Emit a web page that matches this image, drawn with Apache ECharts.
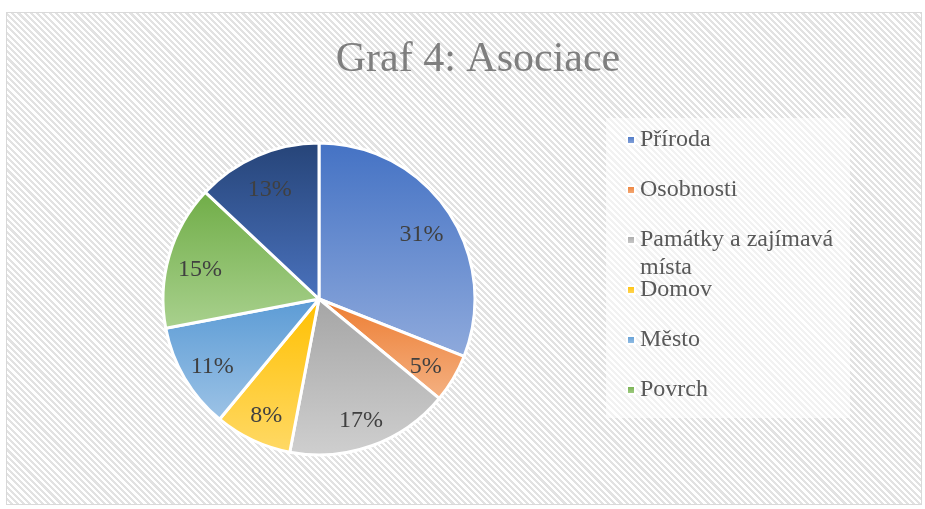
<!DOCTYPE html>
<html>
<head>
<meta charset="utf-8">
<script src="https://cdn.jsdelivr.net/npm/echarts@6/dist/echarts.min.js"></script>
<style>
html,body{margin:0;padding:0;background:#fff;}
#frame{position:absolute;left:6px;top:12px;width:914px;height:491px;border:1.5px solid #d9d9d9;
background:repeating-linear-gradient(45deg,#ffffff 0px,#ffffff 2.2px,#e2e2e2 2.2px,#e2e2e2 4.4px);}
#legbox{position:absolute;left:606px;top:118px;width:244px;height:300px;background:rgba(255,255,255,0.55);}
#chart{position:absolute;left:0;top:0;width:925px;height:509px;}
</style>
</head>
<body>
<div id="frame"></div>
<div id="legbox"></div>
<div id="chart"></div>
<script>
const titleText = "Graf 4: Asociace";
const categories = ["Příroda", "Osobnosti", "Památky a zajímavá místa", "Domov", "Město", "Povrch", "Ostatní"];
const values = [31, 5, 17, 8, 11, 15, 13];
const legendNames = ["Příroda", "Osobnosti", "Památky a zajímavá místa", "Domov", "Město", "Povrch"];
const colorTop = ["#4472c4", "#ed7d31", "#a5a5a5", "#ffc000", "#5b9bd5", "#70ad47", "#264478"];
const colorBottom = ["#8faadc", "#f4b183", "#cfcfcf", "#ffd966", "#9dc3e6", "#a9d18e", "#4a72bd"];

const serif = "'Liberation Serif','Times New Roman',serif";
const grad = (i) => new echarts.graphic.LinearGradient(0, 0, 0, 1, [
  {offset: 0, color: colorTop[i]}, {offset: 1, color: colorBottom[i]}
]);
const pieData = categories.map((n, i) => ({name: n, value: values[i], itemStyle: {color: grad(i)}}));
const labelData = categories.map((n, i) => ({name: n, value: values[i]}));

// one legend component per entry, rows 50px apart
const legendTop0 = 135, legendStep = 50, lh = 28;
const legends = legendNames.map((n, i) => {
  const wrapped = n === "Památky a zajímavá místa";
  const c = legendTop0 + legendStep * i;
  return {
    orient: 'vertical', left: 621,
    top: wrapped ? c - (3 * lh) / 2 : c - lh / 2,
    itemWidth: 8, itemHeight: 8, icon: 'rect', data: [n],
    formatter: wrapped ? () => "\nPamátky a zajímavá\nmísta" : '{name}',
    textStyle: {fontFamily: serif, fontSize: 24, color: '#595959', lineHeight: lh},
    selectedMode: false
  };
});

const chart = echarts.init(document.getElementById('chart'), null, {renderer: 'canvas'});
chart.setOption({
  backgroundColor: 'transparent',
  animation: false,
  title: {
    text: titleText, left: 473, top: 34, textAlign: 'center',
    textStyle: {fontFamily: serif, fontSize: 42, fontWeight: 'normal', color: '#7f7f7f'}
  },
  legend: legends,
  series: [{
    type: 'pie', center: [319, 299], radius: [0, 156], startAngle: 90, clockwise: true,
    data: pieData, label: {show: false}, labelLine: {show: false},
    itemStyle: {borderColor: '#ffffff', borderWidth: 3},
    emphasis: {disabled: true}, silent: true
  }, {
    type: 'pie', center: [319, 299], radius: [86, 156], startAngle: 90, clockwise: true,
    data: labelData,
    itemStyle: {color: 'rgba(0,0,0,0)'},
    label: {show: true, position: 'inside', formatter: '{d}%', offset: [0, 5],
      fontFamily: serif, fontSize: 24, color: '#404040'},
    labelLine: {show: false}, emphasis: {disabled: true}, silent: true,
    legendHoverLink: false
  }]
});
</script>
</body>
</html>
